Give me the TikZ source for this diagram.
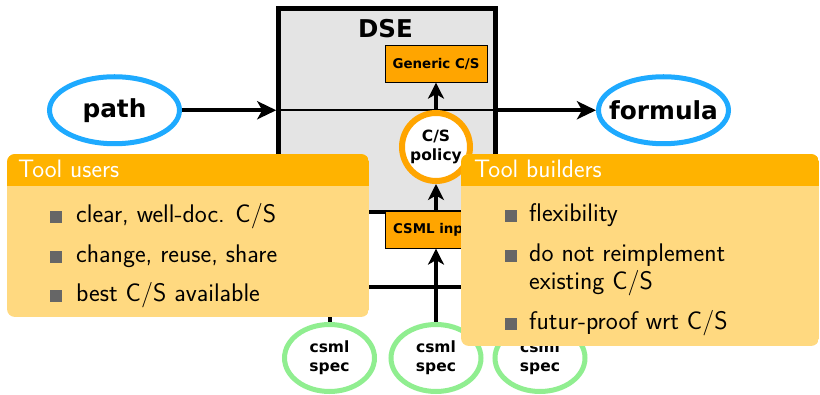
\documentclass[tikz,border=0pt]{standalone}
\usepackage{fontspec}
\newfontfamily\dv{DejaVu Sans}
\usetikzlibrary{arrows.meta,shapes.geometric}
\definecolor{blueC}{RGB}{30,170,255}
\definecolor{greenC}{RGB}{144,238,144}
\definecolor{orangeC}{RGB}{255,165,0}
\definecolor{dsegray}{RGB}{228,228,228}
\definecolor{headC}{RGB}{255,179,0}
\definecolor{bodyC}{RGB}{255,217,128}
\definecolor{bulletC}{RGB}{102,102,102}
\begin{document}
\begin{tikzpicture}[x=1pt,y=-1pt,
  blueell/.style={ellipse, draw=blueC, line width=5pt, fill=white, inner sep=0pt,
    minimum width=130pt, minimum height=67pt, font={\dv\bfseries\fontsize{24.8pt}{28pt}\selectfont}},
  greenell/.style={ellipse, draw=greenC, line width=5pt, fill=white, inner sep=0pt,
    minimum width=90pt, minimum height=67pt, align=center,
    font={\dv\bfseries\fontsize{15.5pt}{19pt}\selectfont}},
  obox/.style={rectangle, draw=black, line width=0.8pt, fill=orangeC, inner sep=0pt,
    minimum width=102pt, minimum height=36.5pt, font={\dv\bfseries\fontsize{13.4pt}{16pt}\selectfont}},
  bigarrow/.style={line width=4.5pt, -{Stealth[length=19pt,width=18pt,inset=5pt]}},
  midarrow/.style={line width=4pt, -{Stealth[length=16pt,width=16pt,inset=4.5pt]}},
  itemtext/.style={anchor=base west, inner sep=0pt, font={\sffamily\fontsize{25.5pt}{28pt}\selectfont}},
  titletext/.style={anchor=base west, inner sep=0pt, text=white, font={\sffamily\fontsize{25.2pt}{28pt}\selectfont}}
]
\useasboundingbox (0,0) rectangle (820,395);

% DSE box
\node[draw=black, line width=4.5pt, fill=dsegray, minimum width=217pt, minimum height=203.5pt, inner sep=0pt] (dse) at (387,110.25) {};
\node[anchor=base, inner sep=0pt, font={\dv\bfseries\fontsize{24.5pt}{28pt}\selectfont}] (dsetitle) at (385.5,37.3) {DSE};
\draw[line width=2pt] (dse.west) -- (dse.east);

% inputs / outputs
\node[blueell] (path) at (114.5,110.25) {\makebox[0pt]{path}};
\node[blueell, minimum width=130pt] (formula) at (663.5,110.25) {\makebox[0pt]{formula}};
\draw[bigarrow] (path.east) -- (dse.west);
\draw[bigarrow] (dse.east) -- (formula.west);

% inner boxes
\node[obox] (gen) at (436,64) {Generic C/S};
\node[circle, draw=orangeC, line width=6pt, fill=white, minimum size=68pt, inner sep=0pt, align=center,
  font={\dv\bfseries\fontsize{15.5pt}{19.5pt}\selectfont}] (pol) at (436,147) {C/S\\policy};
\node[obox] (csml) at (436,230) {CSML input};
\draw[midarrow] (pol.north) -- (gen.south);
\draw[midarrow] (csml.north) -- (pol.south);

% csml specs
\node[greenell] (c1) at (329.5,358) {csml\\spec};
\node[greenell] (c2) at (436,358) {csml\\spec};
\node[greenell] (c3) at (540,358) {csml\\spec};
\coordinate (bus) at (0,287);
\draw[line width=4pt] (c1.north) -- (c1.north |- bus) -- (c3.north |- bus) -- (c3.north);
\draw[midarrow] (c2.north) -- (csml.south);

% Tool users block
\begin{scope}
\clip[rounded corners=8pt] (7,154) rectangle (369,317);
\fill[bodyC] (7,154) rectangle (369,317);
\fill[headC] (7,154) rectangle (369,186);
\end{scope}
\node[titletext] (tut) at (18,178) {Tool users};
\fill[bulletC] (50,223.5) rectangle (62,211.5);
\node[itemtext] (tu1) at (76,223) {clear, well-doc. C/S};
\fill[bulletC] (50,263.5) rectangle (62,251.5);
\node[itemtext] (tu2) at (76,263) {change, reuse, share};
\fill[bulletC] (50,302.5) rectangle (62,290.5);
\node[itemtext] (tu3) at (76,302) {best C/S available};

% Tool builders block
\begin{scope}
\clip[rounded corners=8pt] (461,154) rectangle (819,346);
\fill[bodyC] (461,154) rectangle (819,346);
\fill[headC] (461,154) rectangle (819,186);
\end{scope}
\node[titletext] (tbt) at (474,178) {Tool builders};
\fill[bulletC] (505,222.5) rectangle (517,210.5);
\node[itemtext] (tb1) at (529,222) {flexibility};
\fill[bulletC] (505,262.5) rectangle (517,250.5);
\node[itemtext] (tb2) at (529,262) {do not reimplement};
\node[itemtext] (tb2b) at (529,290) {existing C/S};
\fill[bulletC] (505,330.5) rectangle (517,318.5);
\node[itemtext] (tb3) at (529,330) {futur-proof wrt C/S};
\end{tikzpicture}
\end{document}
